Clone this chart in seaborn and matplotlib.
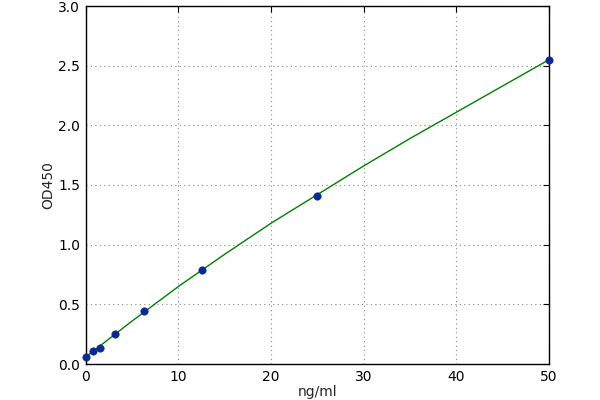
import numpy as np
import pandas as pd
import seaborn as sns
import matplotlib
matplotlib.use("Agg")
import matplotlib.pyplot as plt

# standard points (ng/ml, OD450)
conc = [0, 0.78, 1.56, 3.125, 6.25, 12.5, 25, 50]
od = [0.06, 0.11, 0.135, 0.25, 0.44, 0.79, 1.41, 2.55]

# fitted curve
curve_x = [0, 2.5, 5, 10, 15, 20, 25, 30, 35, 40, 45, 50]
curve_y = [0.06, 0.21, 0.36, 0.65, 0.92, 1.18, 1.42, 1.66, 1.89, 2.11, 2.33, 2.55]

sns.set_style("white")
plt.rcParams['font.family'] = ['DejaVu Sans']

fig = plt.figure(figsize=(6, 4), dpi=100)
ax = fig.add_axes([0.143, 0.09, 0.772, 0.895])

pts = pd.DataFrame({"conc": conc, "od": od})
crv = pd.DataFrame({"x": curve_x, "y": curve_y})

sns.lineplot(data=crv, x="x", y="y", color="green", linewidth=1.0, ax=ax, zorder=2)
sns.scatterplot(data=pts, x="conc", y="od", color="#0b2a8f", s=28, edgecolor="#0b2a8f",
                linewidth=0.5, ax=ax, zorder=3, clip_on=False)

ax.set_xlim(0, 50)
ax.set_ylim(0, 3.0)
ax.set_xticks([0, 10, 20, 30, 40, 50])
ax.set_yticks(np.arange(0, 3.01, 0.5))
ax.set_yticklabels([f"{v:.1f}" for v in np.arange(0, 3.01, 0.5)])
ax.grid(True, linestyle=(0, (1, 3)), color="#888888", linewidth=0.8)
ax.tick_params(direction="in", length=4, top=True, right=True, labelsize=10,
               colors="black", pad=4)
for s in ax.spines.values():
    s.set_color("black")
    s.set_linewidth(1.0)

ax.set_xlabel("ng/ml", fontsize=10, labelpad=1)
ax.set_ylabel("OD450", fontsize=10, labelpad=2)

fig.savefig("out.png", dpi=100)
